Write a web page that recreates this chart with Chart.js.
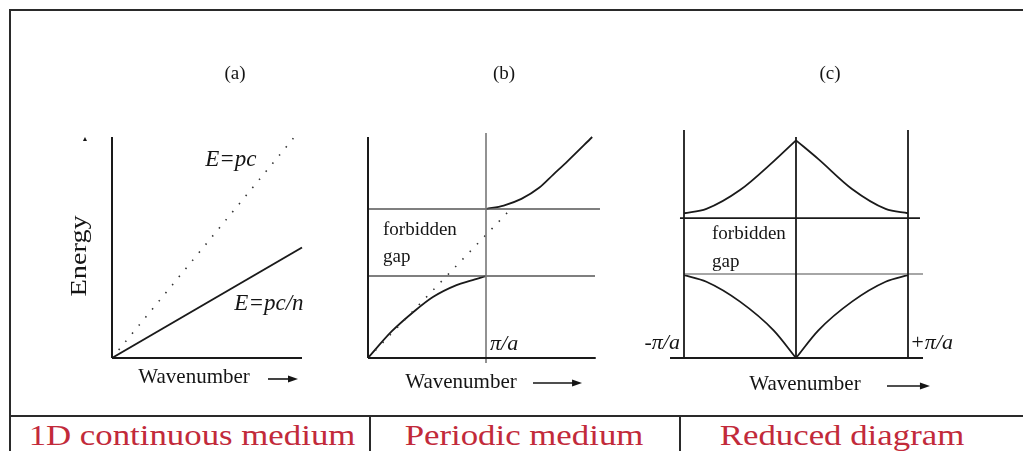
<!DOCTYPE html>
<html>
<head>
<meta charset="utf-8">
<script src="https://cdn.jsdelivr.net/npm/chart.js@4.4.1/dist/chart.umd.min.js"></script>
<style>
    body { margin: 0; background: #fff; }
    #folha { position: relative; width: 1023px; height: 451px; overflow: hidden; background: #fff; }
    canvas { position: absolute; top: 11px; }
    .traco { position: absolute; background: #2a2a2a; }
    .legenda { position: absolute; top: 418px; width: 400px; text-align: center; line-height: 33px;
        font-family: "Liberation Serif", "Times New Roman", serif; font-size: 30px; color: #c22a3a;
        transform: scaleX(1.16); transform-origin: center; white-space: nowrap; }
</style>
</head>
<body>
<div id="folha">
    <canvas id="graficoA" width="329" height="403" style="left:11px"></canvas>
    <canvas id="graficoB" width="300" height="403" style="left:340px"></canvas>
    <canvas id="graficoC" width="383" height="403" style="left:640px"></canvas>

    <div class="traco" style="left:9px; top:9px; width:1014px; height:2px"></div>
    <div class="traco" style="left:9px; top:9px; width:2px; height:442px"></div>
    <div class="traco" style="left:9px; top:415px; width:1014px; height:2px"></div>
    <div class="traco" style="left:369px; top:415px; width:2px; height:36px"></div>
    <div class="traco" style="left:679px; top:415px; width:2px; height:36px"></div>

    <div class="legenda" style="left:-8px">1D continuous medium</div>
    <div class="legenda" style="left:324px">Periodic medium</div>
    <div class="legenda" style="left:642px">Reduced diagram</div>
</div>

<script>
// (a) meio continuo 1D
var kLivre = [0, 0.96];
var eLivre = [0, 1.0];
var kMeio = [0, 1.0];
var eMeio = [0, 0.5];
var eixoA = [1.0, 1.0]; // [k max do eixo x, E max do eixo y]

// (b) meio periodico
var kBandaInf = [0, 0.2, 0.4, 0.55, 0.75, 0.87, 1.0];
var eBandaInf = [0, 0.12, 0.215, 0.276, 0.33, 0.35, 0.37];
var kBandaSup = [1.0, 1.15, 1.3, 1.45, 1.57, 1.69, 1.9];
var eBandaSup = [0.674, 0.69, 0.72, 0.77, 0.83, 0.89, 1.0];
var kLivreB = [0, 1.23];
var eLivreB = [0, 0.685];
var gapB = [0.371, 0.674];
var fimGapB = [1.924, 1.966];
var kBorda = 1; // pi/a

// (c) diagrama reduzido, metade esquerda e metade direita
var kReduzEsq = [-1, -0.8, -0.5, -0.2, 0];
var kReduzDir = [0, 0.2, 0.5, 0.8, 1];
var eSupEsq = [0.655, 0.675, 0.76, 0.89, 0.985];
var eSupDir = [0.985, 0.9, 0.765, 0.675, 0.655];
var eInfEsq = [0.375, 0.345, 0.255, 0.125, 0];
var eInfDir = [0, 0.125, 0.255, 0.345, 0.375];
var gapC = [0.38, 0.633];

var serif = '"Liberation Serif", "Times New Roman", serif';

function linha(ks, es, cor, largura, tracejado, curva) {
    return {
        data: ks.map(function (k, i) { return { x: k, y: es[i] }; }),
        showLine: true,
        borderColor: cor,
        borderWidth: largura,
        borderDash: tracejado || [],
        pointRadius: 0,
        fill: false,
        clip: false,
        tension: 0,
        cubicInterpolationMode: curva ? 'monotone' : 'default'
    };
}

// plugin simples para escrever os textos nas coordenadas dos dados
function rotulos(itens) {
    return {
        id: 'rotulos',
        afterDatasetsDraw: function (chart) {
            var ctx = chart.ctx;
            var sx = chart.scales.x;
            var sy = chart.scales.y;
            itens.forEach(function (it) {
                var x = sx.getPixelForValue(it.k);
                var y = sy.getPixelForValue(it.e);
                ctx.save();
                ctx.fillStyle = '#151515';
                ctx.strokeStyle = '#151515';
                if (it.seta) {
                    var x2 = sx.getPixelForValue(it.k2);
                    ctx.lineWidth = 1.6;
                    ctx.beginPath();
                    ctx.moveTo(x, y);
                    ctx.lineTo(x2 - 8, y);
                    ctx.stroke();
                    ctx.beginPath();
                    ctx.moveTo(x2, y);
                    ctx.lineTo(x2 - 10, y - 3.5);
                    ctx.lineTo(x2 - 10, y + 3.5);
                    ctx.closePath();
                    ctx.fill();
                } else {
                    ctx.translate(x, y);
                    if (it.rot) ctx.rotate(it.rot);
                    if (it.esticar) ctx.scale(it.esticar, 1);
                    ctx.font = it.fonte;
                    ctx.textAlign = it.alinhar || 'center';
                    ctx.textBaseline = 'middle';
                    ctx.fillText(it.texto, 0, 0);
                }
                ctx.restore();
            });
        }
    };
}

function grafico(id, xmin, xmax, padding, datasets, itens) {
    return new Chart(document.getElementById(id), {
        type: 'scatter',
        data: { datasets: datasets },
        options: {
            responsive: false,
            animation: false,
            layout: { padding: padding },
            scales: {
                x: { type: 'linear', display: false, min: xmin, max: xmax },
                y: { type: 'linear', display: false, min: 0, max: 1 }
            },
            plugins: {
                legend: { display: false },
                tooltip: { enabled: false }
            }
        },
        plugins: [rotulos(itens)]
    });
}

var preto = '#1a1a1a';
var cinza = '#555';

var graficoA = grafico('graficoA', 0, 1, { left: 101, right: 38, top: 126, bottom: 56 }, [
    linha([0, 0], [0, eixoA[1]], preto, 2),
    linha([0, eixoA[0]], [0, 0], preto, 2),
    linha(kLivre, eLivre, '#333', 1.6, [1.5, 9]),
    linha(kMeio, eMeio, preto, 2)
], [
    { texto: '(a)', k: 0.647, e: 1.285, fonte: '19px ' + serif },
    { texto: 'E=pc', k: 0.626, e: 0.896, fonte: 'italic 23px ' + serif },
    { texto: 'E=pc/n', k: 0.826, e: 0.244, fonte: 'italic 23px ' + serif },
    { texto: 'Energy', k: -0.168, e: 0.462, fonte: '24px ' + serif, rot: -Math.PI / 2, esticar: 1.18 },
    { texto: '\u25B2', k: -0.142, e: 0.99, fonte: '7px ' + serif },
    { texto: 'Wavenumber', k: 0.432, e: -0.09, fonte: '21px ' + serif },
    { seta: true, k: 0.821, k2: 0.979, e: -0.095 }
]);

var graficoB = grafico('graficoB', 0, 2, { left: 28, right: 36, top: 126, bottom: 56 }, [
    linha([0, 0], [0, 1], preto, 2),
    linha([0, 1.93], [0, 0], preto, 2),
    linha([kBorda, kBorda], [-0.023, 1.018], '#777', 1.6),
    linha([0, fimGapB[1]], [gapB[1], gapB[1]], cinza, 1.6),
    linha([0, fimGapB[0]], [gapB[0], gapB[0]], cinza, 1.6),
    linha(kLivreB, eLivreB, '#333', 1.6, [1.5, 9]),
    linha(kBandaInf, eBandaInf, preto, 1.8, null, true),
    linha(kBandaSup, eBandaSup, preto, 1.8, null, true)
], [
    { texto: '(b)', k: 1.153, e: 1.285, fonte: '19px ' + serif },
    { texto: 'forbidden', k: 0.127, e: 0.579, fonte: '19px ' + serif, alinhar: 'left' },
    { texto: 'gap', k: 0.127, e: 0.457, fonte: '19px ' + serif, alinhar: 'left' },
    { texto: '\u03C0/a', k: 1.034, e: 0.063, fonte: 'italic 22px ' + serif, alinhar: 'left' },
    { texto: 'Wavenumber', k: 0.788, e: -0.109, fonte: '21px ' + serif },
    { seta: true, k: 1.398, k2: 1.814, e: -0.113 }
]);

var graficoC = grafico('graficoC', -1, 1, { left: 44, right: 115, top: 126, bottom: 56 }, [
    linha([-1, -1], [0, 1.032], preto, 1.8),
    linha([0, 0], [0, 1.0], preto, 1.8),
    linha([1, 1], [0, 1.032], preto, 1.8),
    linha([-1.125, 1.134], [0, 0], preto, 2),
    linha([-1.036, 1.107], [gapC[1], gapC[1]], preto, 1.6),
    linha([-1, 1.134], [gapC[0], gapC[0]], '#888', 1.6),
    linha(kReduzEsq, eSupEsq, preto, 1.8, null, true),
    linha(kReduzDir, eSupDir, preto, 1.8, null, true),
    linha(kReduzEsq, eInfEsq, preto, 1.8, null, true),
    linha(kReduzDir, eInfDir, preto, 1.8, null, true)
], [
    { texto: '(c)', k: 0.304, e: 1.285, fonte: '19px ' + serif },
    { texto: 'forbidden', k: -0.75, e: 0.561, fonte: '19px ' + serif, alinhar: 'left' },
    { texto: 'gap', k: -0.75, e: 0.434, fonte: '19px ' + serif, alinhar: 'left' },
    { texto: '-\u03C0/a', k: -1.036, e: 0.068, fonte: 'italic 22px ' + serif, alinhar: 'right' },
    { texto: '+\u03C0/a', k: 1.018, e: 0.068, fonte: 'italic 22px ' + serif, alinhar: 'left' },
    { texto: 'Wavenumber', k: 0.08, e: -0.122, fonte: '21px ' + serif },
    { seta: true, k: 0.8125, k2: 1.196, e: -0.127 }
]);
</script>
</body>
</html>
